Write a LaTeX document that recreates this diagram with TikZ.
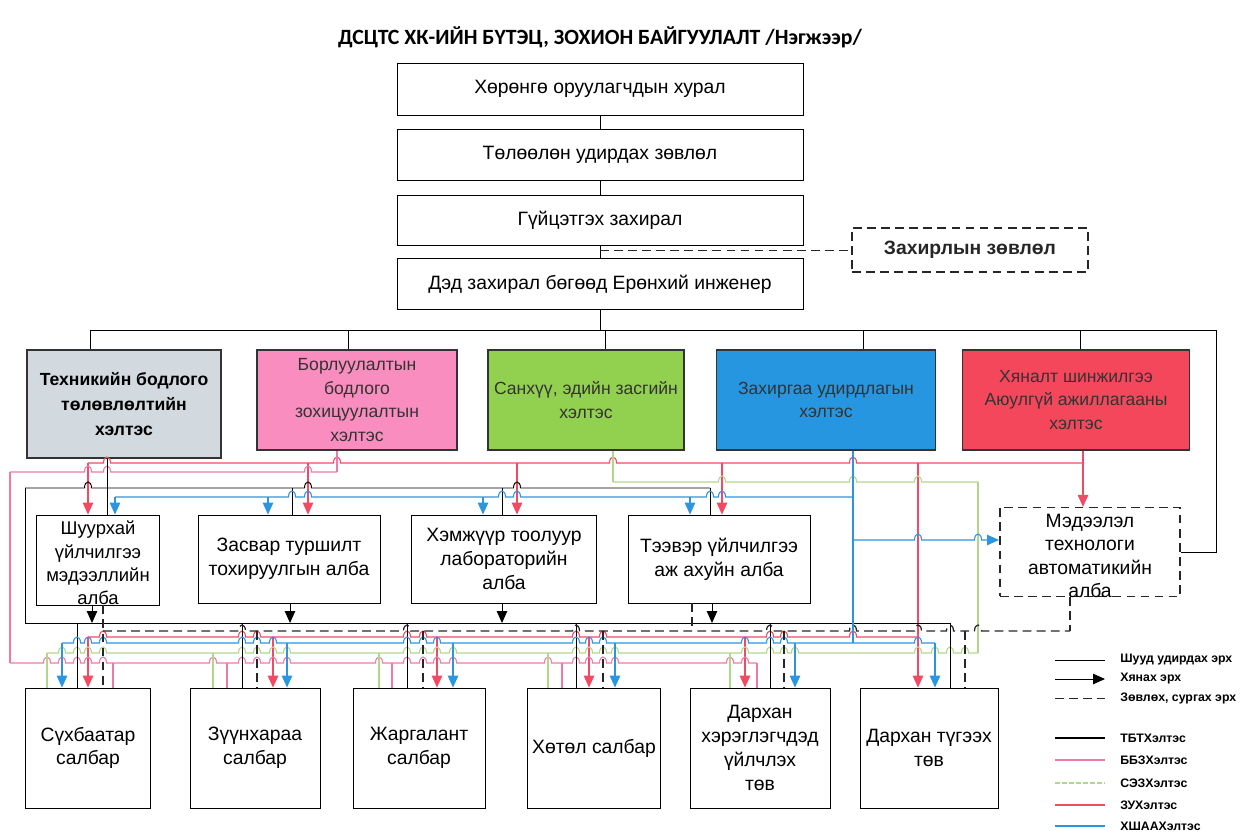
\documentclass[tikz,border=0pt]{standalone}
\usepackage{fontspec}
\setmainfont{Liberation Sans}
\newfontfamily\titlefont{Carlito}
\usetikzlibrary{arrows.meta}

\definecolor{tbtgray}{HTML}{D3DADF}
\definecolor{bbzpink}{HTML}{F98DBF}
\definecolor{sezgreen}{HTML}{92D050}
\definecolor{zublue}{HTML}{2796E0}
\definecolor{xshred}{HTML}{F5475B}
\definecolor{linepink}{HTML}{F07AA6}
\definecolor{linegreen}{HTML}{B2D68A}
\definecolor{lineblue}{HTML}{2B95E0}
\definecolor{linered}{HTML}{F24A63}

\tikzset{
  box/.style={draw=black, line width=0.5pt, align=center, inner sep=1pt,
    font=\fontsize{11}{13.5}\selectfont},
  dept/.style={draw=black!80, line width=0.9pt, align=center, inner sep=1pt,
    minimum height=2cm, text=black!80, font=\fontsize{10}{13.5}\selectfont},
  legend/.style={anchor=west, inner sep=0pt, font=\bfseries\fontsize{7}{8}\selectfont},
  tbt/.style={black, line width=0.55pt},
  bbz/.style={linepink, line width=0.6pt},
  sez/.style={linegreen, line width=0.6pt},
  zu/.style={lineblue, line width=0.6pt},
  xsh/.style={linered, line width=0.6pt},
  hint/.style={black!85, dash pattern=on 5pt off 3pt, line width=0.7pt},
  arr/.style={-{Triangle[length=2.4mm,width=2.1mm]}},
}

% horizontal line with hops: style, y, x start, hop list, x end
\newcommand{\hopline}[5]{%
  \draw[#1] (#3,#2) \foreach \h in {#4}{ -- (\h-3.5,#2)
    .. controls (\h-3.5,#2-8) and (\h+3.5,#2-8) .. (\h+3.5,#2)} -- (#5,#2);}

\begin{document}
\begin{tikzpicture}[x=0.02cm,y=-0.02cm]
  \useasboundingbox (0,0) rectangle (1241,832);

  \node[font={\titlefont\bfseries\fontsize{12.4}{14}\selectfont}] (title) at (600,37)
    {ДСЦТС ХК-ИЙН БҮТЭЦ, ЗОХИОН БАЙГУУЛАЛТ /Нэгжээр/};

  % top of the tree
  \node[box, minimum width=8.12cm, minimum height=1.04cm] (inv) at (600,89) {Хөрөнгө оруулагчдын хурал};
  \node[box, minimum width=8.12cm, minimum height=1.02cm] (board) at (600,155) {Төлөөлөн удирдах зөвлөл};
  \node[box, minimum width=8.12cm, minimum height=1.0cm] (ceo) at (600,220) {Гүйцэтгэх захирал};
  \node[box, minimum width=8.12cm, minimum height=1.02cm] (dep) at (600,284) {Дэд захирал бөгөөд Ерөнхий инженер};
  \node[box, hint, minimum width=4.72cm, minimum height=0.88cm, font=\bfseries\fontsize{11}{13.5}\selectfont]
    (council) at (970,250) {Захирлын зөвлөл};

  \draw[tbt] (inv) -- (board);
  \draw[tbt] (board) -- (ceo);
  \draw[tbt] (ceo) -- (dep);
  \draw[hint, line width=0.5pt] (ceo.south |- council.west) -- (council.west);

  % departments
  \node[dept, fill=tbtgray, text=black, minimum width=3.88cm, minimum height=2.16cm,
    font=\bfseries\fontsize{10}{14}\selectfont] (tech) at (124,404) {Техникийн бодлого\\төлөвлөлтийн\\хэлтэс};
  \node[dept, fill=bbzpink, minimum width=4cm] (sales) at (357,400) {Борлуулалтын\\бодлого\\зохицуулалтын\\хэлтэс};
  \node[dept, fill=sezgreen, minimum width=3.92cm] (fin) at (586,400) {Санхүү, эдийн засгийн\\хэлтэс};
  \node[dept, fill=zublue, minimum width=4.38cm] (admin) at (826,400) {Захиргаа удирдлагын\\хэлтэс};
  \node[dept, fill=xshred, minimum width=4.54cm] (safety) at (1076,400) {Хяналт шинжилгээ\\Аюулгүй ажиллагааны\\хэлтэс};

  % units
  \node[box, minimum width=2.46cm, minimum height=1.8cm] (shu) at (98,560) {};
  \node[align=center, font=\fontsize{10.5}{13.2}\selectfont] (shut) at (98,563) {Шуурхай\\үйлчилгээ\\мэдээллийн\\алба};
  \node[box, minimum width=3.64cm, minimum height=1.76cm] (zas) at (289,559) {Засвар туршилт\\тохируулгын алба};
  \node[box, minimum width=3.7cm, minimum height=1.76cm] (hem) at (504,559) {Хэмжүүр тоолуур\\лабораторийн\\алба};
  \node[box, minimum width=3.64cm, minimum height=1.76cm] (tee) at (719,559) {Тээвэр үйлчилгээ\\аж ахуйн алба};
  \node[box, hint, minimum width=3.6cm, minimum height=1.78cm] (med) at (1090,552) {};
  \node[align=center, font=\fontsize{11}{13.2}\selectfont] (medt) at (1090,556) {Мэдээлэл\\технологи\\автоматикийн\\алба};

  \draw[tbt] (dep.south) -- (600,330);
  \draw[tbt] (tech.north -| 90,0) |- (1216,330) |- (med.east);
  \foreach \x/\n in {348/sales,605/fin,863/admin,1080/safety}
    \draw[tbt] (\x,330) -- (\n.north -| \x,0);

  % branches
  \node[box, minimum width=2.5cm, minimum height=2.4cm] (sukh) at (88,748) {Сүхбаатар\\салбар};
  \node[box, minimum width=2.6cm, minimum height=2.4cm] (zuun) at (255,748) {Зүүнхараа\\салбар};
  \node[box, minimum width=2.64cm, minimum height=2.4cm] (zhar) at (419,748) {Жаргалант\\салбар};
  \node[box, minimum width=2.66cm, minimum height=2.4cm] (hotol) at (594,748) {Хөтөл салбар};
  \node[box, minimum width=2.8cm, minimum height=2.4cm] (darh) at (760,748) {Дархан\\хэрэглэгчдэд\\үйлчлэх\\төв};
  \node[box, minimum width=2.76cm, minimum height=2.4cm] (dart) at (929,748) {Дархан түгээх\\төв};

  % ХШАА lines
  \draw[xsh] (safety.south -| 1083,0) -- (1083,463);
  \hopline{xsh}{463}{88}{107,337,613,853}{1083}
  \foreach \x/\n in {88/shu,308/zas,517/hem,722/tee,1083/med}
    \draw[xsh,arr] (\x,463) -- (\n.north -| \x,0);
  \draw[xsh,arr] (918,463) -- (dart.north -| 918,0);
  \hopline{xsh}{637}{88}{103,242,257,407,423,576,603,770,784,853}{918}
  \foreach \x/\n in {88/sukh,273/zuun,437/zhar,589/hotol,745/darh}
    \draw[xsh,arr] (\x,637) -- (\n.north -| \x,0);

  % ББЗ lines
  \draw[bbz] (sales.south -| 337,0) -- (337,472);
  \hopline{bbz}{472}{10}{88,107,308}{337}
  \draw[bbz] (10,472) -- (10,663);
  \hopline{bbz}{663}{10}{47,62,77,88,103,213,242,257,273,287,379,407,423,437,453,548,576,589,603,615,730,745}{757}
  \foreach \x/\n in {113/sukh,227/zuun,392/zhar,562/hotol,757/darh}
    \draw[bbz] (\x,663) -- (\n.north -| \x,0);

  % СЭЗ lines
  \draw[sez] (fin.south -| 613,0) -- (613,482);
  \hopline{sez}{482}{613}{722,853,918}{978}
  \draw[sez] (978,482) -- (978,653);
  \hopline{sez}{653}{47}{62,77,88,103,242,257,273,287,407,423,437,453,576,589,603,615,745,770,784,795,918,935,950,965}{978}
  \foreach \x/\n in {47/sukh,213/zuun,379/zhar,548/hotol,730/darh}
    \draw[sez] (\x,653) -- (\n.north -| \x,0);

  % ТБТ lines
  \draw[tbt] (tech.south -| 107,0) -- (shu.north -| 107,0);
  \hopline{tbt}{488}{25}{88,308,517}{710}
  \draw[tbt] (25,488) -- (25,623);
  \foreach \x/\n in {292/zas,502/hem,710/tee}
    \draw[tbt] (\x,488) -- (\n.north -| \x,0);
  \foreach \x/\n in {92/shu,290/zas,502/hem,712/tee}
    \draw[tbt,arr] (\n.south -| \x,0) -- (\x,623);
  \draw[tbt] (25,623) -- (950,623) -- (dart.north -| 950,0);
  \foreach \x/\n in {77/sukh,242/zuun,407/zhar,576/hotol,770/darh}
    \draw[tbt] (\x,623) -- (\n.north -| \x,0);

  % ЗУ lines
  \draw[zu] (admin.south -| 853,0) -- (853,643);
  \hopline{zu}{497}{115}{292,308,502,517,710,722}{853}
  \foreach \x/\n in {115/shu,268/zas,483/hem,690/tee}
    \draw[zu,arr] (\x,497) -- (\n.north -| \x,0);
  \hopline{zu,arr}{540}{853}{918,978}{999}
  \hopline{zu}{643}{62}{77,88,103,242,257,273,407,423,437,576,589,603,745,770,784,918}{935}
  \foreach \x/\n in {62/sukh,287/zuun,453/zhar,615/hotol,795/darh,935/dart}
    \draw[zu,arr] (\x,643) -- (\n.north -| \x,0);

  % advisory lines
  \draw[hint] (med.south -| 1070,0) -- (1070,631);
  \hopline{hint}{631}{103}{242,407,576,770,853,918,950,978}{1070}
  \draw[hint] (shu.south -| 103,0) -- (sukh.north -| 103,0);
  \draw[hint] (tee.south -| 692,0) -- (692,631);
  \foreach \x/\n in {257/zuun,423/zhar,603/hotol,784/darh,965/dart}
    \draw[hint] (\x,631) -- (\n.north -| \x,0);

  % legend
  \draw[tbt, line width=0.4pt] (1055,660) -- (1105,660);
  \node[legend] (lg1) at (1120,660) {Шууд удирдах эрх};
  \draw[tbt, arr] (1055,679) -- (1105,679);
  \node[legend] (lg2) at (1120,679) {Хянах эрх};
  \draw[hint, line width=0.5pt] (1055,698) -- (1105,698);
  \node[legend] (lg3) at (1120,698) {Зөвлөх, сургах эрх};
  \draw[tbt, line width=0.9pt] (1055,738) -- (1105,738);
  \node[legend] (lg4) at (1120,738) {ТБТХэлтэс};
  \draw[bbz] (1055,760) -- (1105,760);
  \node[legend] (lg5) at (1120,760) {ББЗХэлтэс};
  \draw[sez, dash pattern=on 3pt off 1pt] (1055,783) -- (1105,783);
  \node[legend] (lg6) at (1120,783) {СЭЗХэлтэс};
  \draw[xsh] (1055,805) -- (1105,805);
  \node[legend] (lg7) at (1120,805) {ЗУХэлтэс};
  \draw[zu] (1055,826) -- (1105,826);
  \node[legend] (lg8) at (1120,826) {ХШААХэлтэс};
\end{tikzpicture}
\end{document}
